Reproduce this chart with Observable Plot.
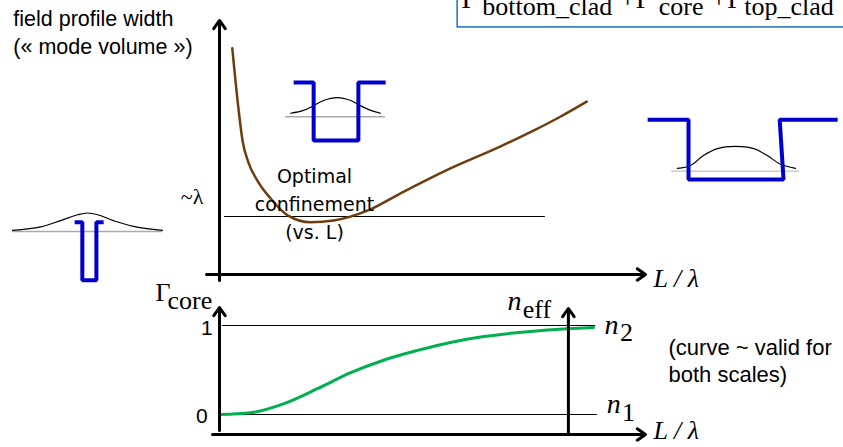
<!DOCTYPE html>
<html>
<head>
<meta charset="utf-8">
<script src="https://cdn.jsdelivr.net/npm/d3@7"></script>
<script src="https://cdn.jsdelivr.net/npm/@observablehq/plot@0.6"></script>
<style>
  body { margin: 0; background: #fff; }
  #chart { position: relative; width: 843px; height: 447px; overflow: hidden; }
  #chart svg { position: absolute; left: 0; top: 0; }
</style>
</head>
<body>
<div id="chart"></div>
<script>
// Field profile width (in units of λ) versus normalized guide width L/λ
const widthL = [0.30, 0.45, 0.54, 0.68, 0.89, 1.20, 1.60, 2.14, 2.68, 3.47, 4.25, 5.42, 6.60, 7.37, 8.00, 8.62];
const widthW = [3.90, 2.83, 2.31, 1.93, 1.62, 1.31, 1.02, 0.90, 0.93, 1.10, 1.40, 1.83, 2.21, 2.48, 2.72, 2.98];

// Core confinement factor Γcore versus L/λ
const gammaL = [0.00, 0.73, 1.50, 2.30, 3.08, 3.85, 4.65, 5.42, 6.13, 6.90, 7.70, 8.78];
const gammaG = [0.00, 0.02, 0.12, 0.29, 0.47, 0.61, 0.72, 0.81, 0.87, 0.915, 0.95, 0.978];

// Index-profile sketches: step profile of the guide and the guided mode field
const narrowStepX = [-3.40, -3.22, -3.22, -2.89, -2.89, -2.72];
const narrowStepY = [0.90, 0.90, -0.10, -0.10, 0.90, 0.90];
const narrowModeX = [-4.86, -4.20, -3.73, -3.33, -3.10, -2.86, -2.49, -2.02, -1.34];
const narrowModeY = [0.76, 0.82, 0.93, 1.03, 1.06, 1.03, 0.93, 0.83, 0.76];
const narrowBase = [-4.86, -1.34, 0.74];

const optimalStepX = [1.74, 2.21, 2.21, 3.26, 3.26, 3.90];
const optimalStepY = [3.31, 3.31, 2.31, 2.31, 3.31, 3.31];
const optimalModeX = [1.67, 1.97, 2.21, 2.44, 2.77, 3.08, 3.31, 3.55, 3.78];
const optimalModeY = [2.78, 2.83, 2.91, 3.00, 3.05, 3.00, 2.91, 2.83, 2.78];
const optimalBase = [1.55, 3.90, 2.72];

const wideStepX = [10.05, 11.01, 11.01, 13.24, 13.15, 14.51];
const wideStepY = [2.67, 2.67, 1.64, 1.64, 2.67, 2.67];
const wideModeX = [10.75, 11.06, 11.36, 11.69, 12.11, 12.54, 12.86, 13.17, 13.52];
const wideModeY = [1.83, 1.88, 2.05, 2.17, 2.21, 2.17, 2.05, 1.90, 1.83];
const wideBase = [10.61, 13.62, 1.78];

const serif = "'Liberation Serif', 'Times New Roman', serif";
const sans = "'Liberation Sans', Arial, Helvetica, sans-serif";
const hand = "'DejaVu Sans', sans-serif";

const pts = (xs, ys) => xs.map((x, i) => ({x, y: ys[i]}));

// a single text label anchored at its baseline
function label(text, x, y, opts = {}) {
  return Plot.text([text], {
    x, y, text: d => d,
    textAnchor: "start", lineAnchor: "bottom",
    fontFamily: serif, fontSize: 24, fill: "black",
    ...opts
  });
}

function profile(stepX, stepY, modeX, modeY, base, baseColor) {
  return [
    Plot.ruleY([base[2]], {x1: base[0], x2: base[1], stroke: baseColor, strokeWidth: 1.5}),
    Plot.line(pts(modeX, modeY), {x: "x", y: "y", curve: "catmull-rom", stroke: "black", strokeWidth: 1.2}),
    Plot.line(pts(stepX, stepY), {x: "x", y: "y", stroke: "#0000cc", strokeWidth: 4,
      strokeLinejoin: "miter", strokeLinecap: "butt"})
  ];
}

const axisArrow = {stroke: "black", strokeWidth: 3, headLength: 5, headAngle: 70};
const common = {
  width: 843, height: 447, margin: 0,
  style: {background: "transparent", overflow: "visible"}
};
const xScale = {type: "linear", domain: [0, 10], range: [219, 645], axis: null};

// Upper panel: mode width versus L/λ
const upperPanel = Plot.plot({
  ...common,
  x: xScale,
  y: {type: "linear", domain: [0, 1], range: [274, 216], axis: null},
  marks: [
    // equation box
    Plot.rect([0], {x1: 5.59, x2: 15, y1: 4.26, y2: 5.2, fill: "none", stroke: "#1f6fbf", strokeWidth: 1.5}),
    label("Γ", 5.68, 4.60, {fontSize: 28}),
    label("bottom_clad", 6.17, 4.48, {fontSize: 26}),
    label("+", 9.58, 4.60, {fontSize: 28, textAnchor: "middle"}),
    label("Γ", 9.77, 4.60, {fontSize: 28}),
    label("core", 10.31, 4.48, {fontSize: 26}),
    label("+", 11.72, 4.60, {fontSize: 28, textAnchor: "middle"}),
    label("Γ", 11.92, 4.60, {fontSize: 28}),
    label("top_clad", 12.32, 4.48, {fontSize: 26}),

    label("field profile width\n(« mode volume »)", -4.84, 3.81, {fontFamily: sans, fontSize: 21.5, lineHeight: 1.26}),
    label("~λ", -0.38, 1.22, {fontSize: 22, textAnchor: "end"}),

    Plot.ruleY([1], {x1: 0.12, x2: 7.65, stroke: "black", strokeWidth: 1}),
    Plot.line(pts(widthL, widthW), {x: "x", y: "y", curve: "monotone-x", stroke: "#6e3c0e", strokeWidth: 2.5}),

    ...profile(narrowStepX, narrowStepY, narrowModeX, narrowModeY, narrowBase, "#aaaaaa"),
    ...profile(optimalStepX, optimalStepY, optimalModeX, optimalModeY, optimalBase, "#aaaaaa"),
    ...profile(wideStepX, wideStepY, wideModeX, wideModeY, wideBase, "#cccccc"),

    label("Optimal\nconfinement\n(vs. L)", 2.23, 0.62, {fontFamily: hand, fontSize: 19, lineHeight: 1.45, textAnchor: "middle"}),

    Plot.arrow([0], {x1: 0, y1: -0.103, x2: 0, y2: 4.38, ...axisArrow}),
    Plot.arrow([0], {x1: -0.305, y1: 0, x2: 10, y2: 0, ...axisArrow}),
    label("L / λ", 10.19, -0.224, {fontSize: 26, fontStyle: "italic"})
  ]
});

// Lower panel: confinement factor (and effective index) versus L/λ
const lowerPanel = Plot.plot({
  ...common,
  x: xScale,
  y: {type: "linear", domain: [0, 1], range: [414, 325], axis: null},
  marks: [
    Plot.ruleY([1], {x1: 0.07, x2: 8.83, stroke: "black", strokeWidth: 1}),
    Plot.ruleY([0], {x1: 0, x2: 8.87, stroke: "black", strokeWidth: 1}),
    Plot.line(pts(gammaL, gammaG), {x: "x", y: "y", curve: "monotone-x", stroke: "#00b050", strokeWidth: 3}),

    Plot.arrow([0], {x1: 0, y1: -0.18, x2: 0, y2: 1.202, ...axisArrow}),
    Plot.arrow([0], {x1: -0.164, y1: -0.225, x2: 10, y2: -0.225, ...axisArrow}),
    Plot.arrow([0], {x1: 8.19, y1: -0.225, x2: 8.19, y2: 1.191, ...axisArrow}),

    label("Γ", -1.50, 1.28, {fontSize: 26}),
    label("core", -1.22, 1.18, {fontSize: 26}),
    label("1", -0.16, 0.97, {fontFamily: sans, fontSize: 21, textAnchor: "end", lineAnchor: "middle"}),
    label("0", -0.28, -0.02, {fontFamily: sans, fontSize: 21, textAnchor: "end", lineAnchor: "middle"}),

    label("n", 6.76, 1.17, {fontSize: 28, fontStyle: "italic"}),
    label("eff", 7.12, 1.08, {fontSize: 26}),
    label("n", 9.04, 0.91, {fontSize: 28, fontStyle: "italic"}),
    label("2", 9.40, 0.83, {fontSize: 26}),
    label("n", 9.09, 0.02, {fontSize: 28, fontStyle: "italic"}),
    label("1", 9.45, -0.07, {fontSize: 26}),
    label("L / λ", 10.19, -0.27, {fontSize: 26, fontStyle: "italic"}),

    label("(curve ~ valid for\nboth scales)", 10.54, 0.36, {fontFamily: sans, fontSize: 22, lineHeight: 1.23})
  ]
});

document.getElementById("chart").append(upperPanel, lowerPanel);
</script>
</body>
</html>
